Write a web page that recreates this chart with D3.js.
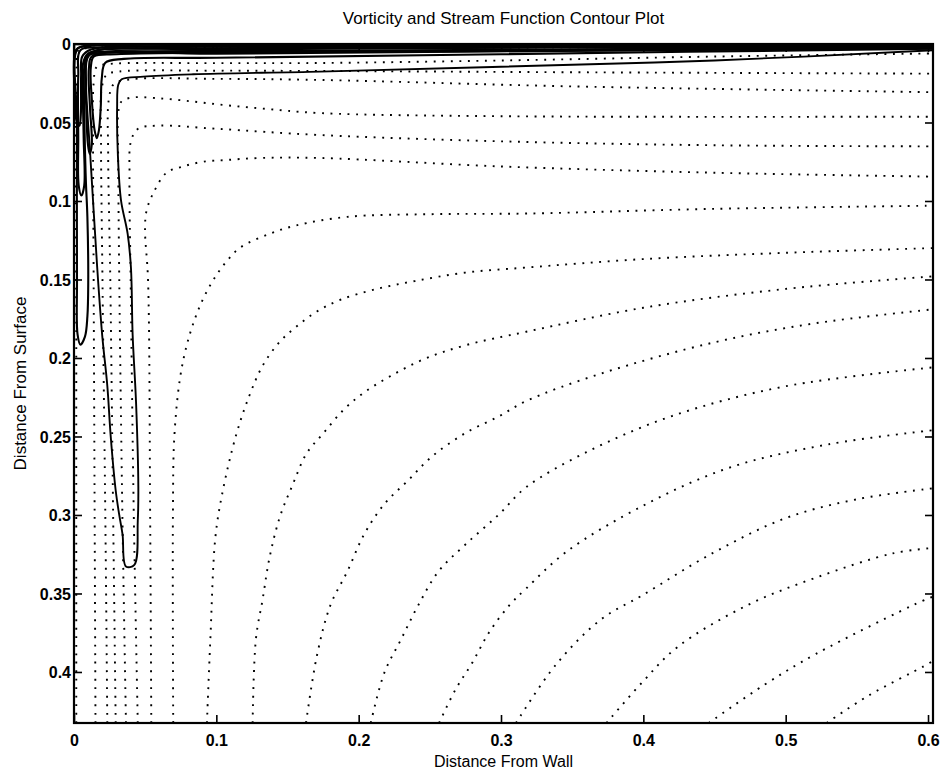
<!DOCTYPE html>
<html>
<head>
<meta charset="utf-8">
<script src="https://cdn.jsdelivr.net/npm/d3@7"></script>
<style>
  body { margin: 0; background: #fff; }
  svg { display: block; }
  text { font-family: "Liberation Sans", Arial, Helvetica, sans-serif; fill: #000; }
</style>
</head>
<body>
<div id="chart"></div>
<script>
// axis ticks
const xTicks = [0, 0.1, 0.2, 0.3, 0.4, 0.5, 0.6];
const yTicks = [0, 0.05, 0.1, 0.15, 0.2, 0.25, 0.3, 0.35, 0.4];
const xMax = 0.6035;
const yMax = 0.4325;

// stream function contours (dotted), [distance from wall, distance from surface]
const psi00 = [[0.0016,0.4325],[0.0016,0.2],[0.0018,0.02],[0.003,0.004],[0.01,0.0026],[0.1,0.0024],[0.3,0.0022],[0.6035,0.002]];
const psi01 = [[0.0151,0.4325],[0.0145,0.3],[0.0138,0.15],[0.0134,0.06],[0.0138,0.025],[0.016,0.0145],[0.024,0.0128],[0.1,0.0122],[0.173,0.0121],[0.3,0.0105],[0.45,0.008],[0.6035,0.006]];
const psi02 = [[0.0234,0.4325],[0.022,0.3],[0.02,0.15],[0.019,0.06],[0.0195,0.028],[0.023,0.0195],[0.032,0.0175],[0.1,0.017],[0.173,0.0172],[0.35,0.018],[0.6035,0.0189]];
const psi03 = [[0.0293,0.4325],[0.0275,0.3],[0.0255,0.15],[0.024,0.07],[0.0245,0.035],[0.028,0.0255],[0.04,0.0225],[0.1,0.0222],[0.173,0.0229],[0.35,0.027],[0.6035,0.0307]];
const psi04 = [[0.0365,0.4325],[0.034,0.3],[0.0318,0.15],[0.031,0.07],[0.031,0.045],[0.033,0.037],[0.04,0.0342],[0.06,0.0346],[0.084,0.0367],[0.107,0.039],[0.131,0.041],[0.173,0.044],[0.3,0.046],[0.6035,0.0463]];
const psi05 = [[0.0448,0.4325],[0.042,0.3],[0.0398,0.15],[0.039,0.085],[0.04,0.062],[0.045,0.054],[0.06,0.052],[0.1,0.054],[0.173,0.058],[0.3,0.062],[0.45,0.0645],[0.6035,0.0652]];
const psi06 = [[0.0543,0.4325],[0.0535,0.3],[0.052,0.15],[0.0499,0.118],[0.051,0.106],[0.0557,0.095],[0.065,0.082],[0.0766,0.078],[0.0907,0.075],[0.107,0.0739],[0.1307,0.0726],[0.1728,0.0726],[0.3,0.078],[0.45,0.082],[0.6035,0.0845]];
const psi07 = [[0.0697,0.4325],[0.0695,0.3],[0.0705,0.25],[0.0744,0.2134],[0.0792,0.1919],[0.0851,0.1746],[0.091,0.1618],[0.0981,0.15],[0.1065,0.1392],[0.1171,0.1295],[0.1374,0.1209],[0.1563,0.1155],[0.192,0.1101],[0.2512,0.1084],[0.3177,0.108],[0.45,0.105],[0.6035,0.103]];
const psi08 = [[0.0934,0.4325],[0.0958,0.379],[0.0993,0.3145],[0.1041,0.2866],[0.1136,0.25],[0.1231,0.2242],[0.1326,0.2048],[0.1445,0.1897],[0.1563,0.18],[0.1706,0.1704],[0.1872,0.1629],[0.2109,0.1564],[0.2394,0.151],[0.275,0.1456],[0.3177,0.1424],[0.4,0.137],[0.5,0.133],[0.6035,0.13]];
const psi09 = [[0.1255,0.4325],[0.1278,0.379],[0.1326,0.3533],[0.1373,0.3275],[0.1445,0.3016],[0.1539,0.2801],[0.1634,0.2608],[0.1753,0.2478],[0.1896,0.2328],[0.2038,0.222],[0.2228,0.2113],[0.2465,0.2005],[0.275,0.1919],[0.3177,0.1833],[0.4,0.168],[0.5,0.156],[0.6035,0.148]];
const psi10 = [[0.163,0.4325],[0.1706,0.3899],[0.1801,0.3576],[0.192,0.336],[0.2038,0.3124],[0.218,0.2931],[0.2347,0.278],[0.2513,0.2629],[0.275,0.2478],[0.2987,0.2371],[0.3177,0.2274],[0.37,0.21],[0.45,0.19],[0.52,0.178],[0.6035,0.169]];
const psi11 = [[0.2085,0.4325],[0.218,0.4006],[0.2299,0.379],[0.2418,0.3576],[0.256,0.336],[0.275,0.3188],[0.2987,0.2995],[0.3177,0.2823],[0.36,0.26],[0.42,0.237],[0.5,0.218],[0.6035,0.206]];
const psi12 = [[0.2565,0.4325],[0.2679,0.4114],[0.2798,0.3941],[0.2916,0.3748],[0.3058,0.3576],[0.3177,0.3468],[0.346,0.3234],[0.4,0.294],[0.46,0.27],[0.53,0.255],[0.6035,0.246]];
const psi13 = [[0.3105,0.4325],[0.3387,0.3952],[0.3703,0.3665],[0.3996,0.351],[0.4483,0.3245],[0.5,0.302],[0.55,0.29],[0.6035,0.283]];
const psi14 = [[0.3741,0.4325],[0.3996,0.4062],[0.424,0.3841],[0.4728,0.3576],[0.5213,0.3399],[0.5751,0.3245],[0.6035,0.321]];
const psi15 = [[0.4459,0.4325],[0.4848,0.4083],[0.5213,0.3885],[0.5944,0.3554],[0.6035,0.352]];
const psi16 = [[0.5288,0.4325],[0.5581,0.4151],[0.5971,0.3963],[0.6035,0.393]];
const psiLines = [psi00, psi01, psi02, psi03, psi04, psi05, psi06, psi07, psi08,
  psi09, psi10, psi11, psi12, psi13, psi14, psi15, psi16];

// vorticity contours (solid), hairpins hugging the wall and the surface
const omega1 = [[0.6035,0.0015],[0.4,0.002],[0.2,0.0025],[0.05,0.003],[0.015,0.0045],[0.0095,0.009],[0.0085,0.025],[0.0095,0.045],[0.0112,0.0675],[0.0163,0.1424],[0.0198,0.1854],[0.0234,0.2177],[0.0258,0.25],[0.0293,0.2844],[0.0317,0.2995],[0.0341,0.3124],[0.0365,0.3328],[0.0424,0.3318],[0.0448,0.3038],[0.0452,0.2822],[0.0436,0.2285],[0.0412,0.1853],[0.04,0.1424],[0.0377,0.1209],[0.033,0.0994],[0.0308,0.07],[0.0303,0.04],[0.0311,0.026],[0.0335,0.0225],[0.0487,0.0208],[0.0838,0.0193],[0.1728,0.0176],[0.3,0.0145],[0.45,0.0105],[0.6035,0.004]];
const omega2 = [[0.6035,0.002],[0.3,0.004],[0.1,0.0055],[0.03,0.0065],[0.014,0.008],[0.0118,0.015],[0.0125,0.035],[0.0145,0.055],[0.016,0.06],[0.0175,0.055],[0.0188,0.04],[0.0195,0.022],[0.022,0.012],[0.035,0.0095],[0.1,0.0088],[0.3,0.0065],[0.6035,0.003]];
const omega3 = [[0.6035,0.001],[0.2,0.0018],[0.02,0.0022],[0.0045,0.004],[0.003,0.02],[0.003,0.06],[0.0033,0.09],[0.0052,0.0965],[0.0072,0.09],[0.0068,0.06],[0.0062,0.03],[0.0065,0.012],[0.01,0.006],[0.03,0.005],[0.2,0.0042],[0.6035,0.002]];
const omega4 = [[0.6035,0.0008],[0.2,0.0012],[0.01,0.0014],[0.0025,0.003],[0.0021,0.05],[0.0021,0.15],[0.0025,0.185],[0.0045,0.1915],[0.0077,0.1864],[0.0094,0.1737],[0.01,0.1524],[0.0094,0.11],[0.0084,0.0888],[0.0077,0.0675],[0.0072,0.04],[0.0072,0.015],[0.009,0.0075],[0.02,0.0058],[0.2,0.005],[0.6035,0.0025]];
const omega5 = [[0.6035,0.0005],[0.1,0.001],[0.006,0.0015],[0.0012,0.004],[0.0012,0.04],[0.002,0.05],[0.0038,0.052],[0.0048,0.045],[0.005,0.02],[0.0058,0.008],[0.012,0.0035],[0.1,0.0028],[0.6035,0.0012]];
const omega6 = [[0.6035,0.0012],[0.1,0.0035],[0.012,0.0052],[0.0088,0.01],[0.0088,0.045],[0.0098,0.064],[0.011,0.07],[0.0125,0.064],[0.0112,0.04],[0.0105,0.015],[0.013,0.0075],[0.1,0.0062],[0.6035,0.0028]];
const vortLines = [omega1, omega2, omega3, omega4, omega5, omega6];

const W = 941, H = 769;
const svg = d3.select("#chart").append("svg").attr("width", W).attr("height", H);

const x = d3.scaleLinear().domain([0, xMax]).range([74, 933]);
const y = d3.scaleLinear().domain([0, yMax]).range([44, 723]);

const line = d3.line()
  .x((d) => x(d[0]))
  .y((d) => y(d[1]))
  .curve(d3.curveCatmullRom.alpha(0.5));

const plot = svg.append("g");

plot.selectAll("path.psi")
  .data(psiLines)
  .enter()
  .append("path")
  .attr("class", "psi")
  .attr("d", line)
  .attr("fill", "none")
  .attr("stroke", "#000")
  .attr("stroke-width", 1.9)
  .attr("stroke-dasharray", "1.9,6.6");

plot.selectAll("path.omega")
  .data(vortLines)
  .enter()
  .append("path")
  .attr("class", "omega")
  .attr("d", line)
  .attr("fill", "none")
  .attr("stroke", "#000")
  .attr("stroke-width", (d, i) => (i === 0 ? 1.9 : 2.1))
  .attr("stroke-linejoin", "round");

// box frame with inward ticks on every side
const x0 = x.range()[0], x1 = x.range()[1];
const y0 = y.range()[0], y1 = y.range()[1];
const tickLen = 8;

const axisB = d3.axisBottom(x).tickValues(xTicks).tickSize(-tickLen).tickPadding(tickLen + 4).tickFormat(d3.format("~g"));
const axisT = d3.axisTop(x).tickValues(xTicks).tickSize(-tickLen).tickFormat("");
const axisL = d3.axisLeft(y).tickValues(yTicks).tickSize(-tickLen).tickFormat(d3.format("~g"));
const axisR = d3.axisRight(y).tickValues(yTicks).tickSize(-tickLen).tickFormat("");

function styleAxis(g) {
  g.select(".domain").remove();
  g.selectAll(".tick line").attr("stroke", "#000").attr("stroke-width", 1.6);
  g.selectAll(".tick text")
    .attr("font-size", 16)
    .attr("font-weight", "bold")
    .attr("fill", "#000")
    .attr("font-family", "Liberation Sans, Arial, sans-serif");
}

svg.append("g").attr("transform", `translate(0,${y1})`).call(axisB).call(styleAxis);
svg.append("g").attr("transform", `translate(0,${y0})`).call(axisT).call(styleAxis);
svg.append("g").attr("transform", `translate(${x0},0)`).call(axisL).call(styleAxis)
  .selectAll(".tick text").attr("x", -3).attr("dy", "0.36em");
svg.append("g").attr("transform", `translate(${x1},0)`).call(axisR).call(styleAxis);

svg.append("rect")
  .attr("x", x0).attr("y", y0)
  .attr("width", x1 - x0).attr("height", y1 - y0)
  .attr("fill", "none")
  .attr("stroke", "#000")
  .attr("stroke-width", 2.2);

svg.append("text")
  .attr("x", (x0 + x1) / 2).attr("y", 24)
  .attr("text-anchor", "middle")
  .attr("font-size", 17)
  .text("Vorticity and Stream Function Contour Plot");

svg.append("text")
  .attr("x", (x0 + x1) / 2).attr("y", 767)
  .attr("text-anchor", "middle")
  .attr("font-size", 16)
  .text("Distance From Wall");

svg.append("text")
  .attr("transform", `translate(26,${(y0 + y1) / 2}) rotate(-90)`)
  .attr("text-anchor", "middle")
  .attr("font-size", 17)
  .text("Distance From Surface");
</script>
</body>
</html>
